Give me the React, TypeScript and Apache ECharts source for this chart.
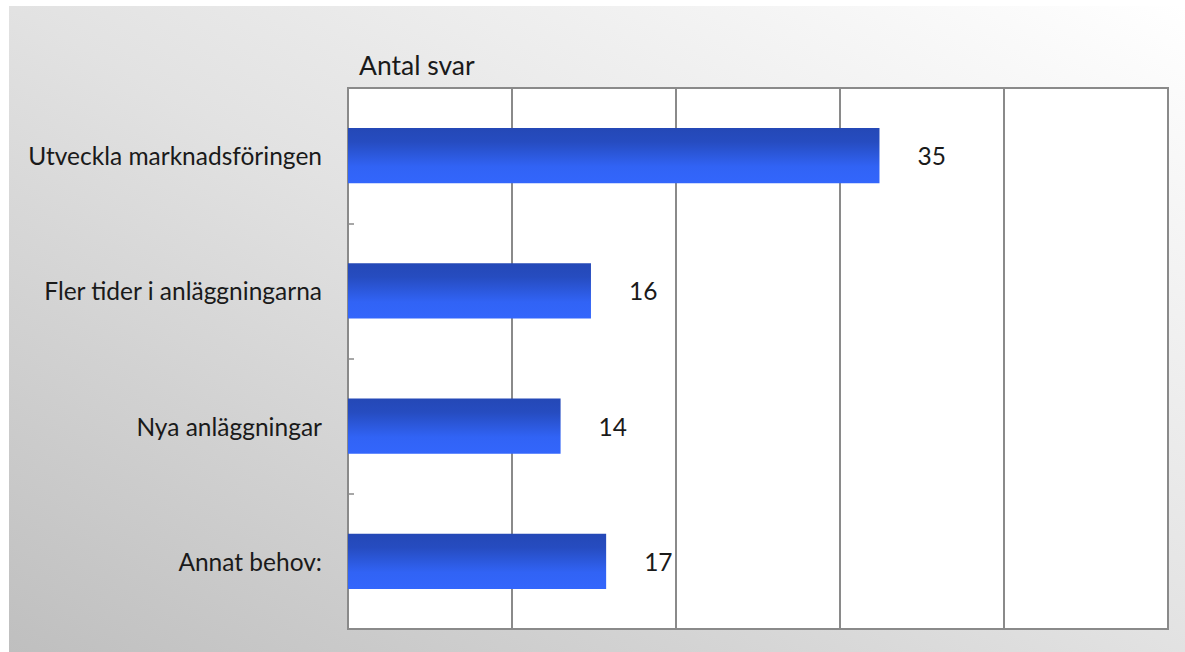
import React, { useEffect, useRef } from "react";
import * as echarts from "echarts";

const categories = [
  "Utveckla marknadsföringen",
  "Fler tider i anläggningarna",
  "Nya anläggningar",
  "Annat behov:",
];
const values = [35, 16, 14, 17];
const axisTitle = "Antal svar";
const axisMax = 54;
const axisInterval = 10.8;

export default function App() {
  const ref = useRef<HTMLDivElement>(null);
  useEffect(() => {
    if (!ref.current) return;
    const chart = echarts.init(ref.current, null, { renderer: "svg" });
    const font = "Lato, 'Open Sans', sans-serif";
    chart.setOption({
      animation: false,
      backgroundColor: "transparent",
      title: {
        text: axisTitle,
        left: 345,
        top: 40,
        textStyle: { fontFamily: font, fontSize: 26.5, fontWeight: "normal", color: "#1a1a1a" },
      },
      grid: {
        left: 339,
        right: 17,
        top: 82,
        bottom: 23,
        show: true,
        backgroundColor: "#ffffff",
        borderColor: "#8a8a8a",
        borderWidth: 2,
      },
      xAxis: {
        type: "value",
        min: 0,
        max: axisMax,
        interval: axisInterval,
        axisLabel: { show: false },
        axisLine: { show: false },
        axisTick: { show: false },
        splitLine: { show: true, lineStyle: { color: "#8a8a8a", width: 2 } },
      },
      yAxis: {
        type: "category",
        data: categories,
        inverse: true,
        axisLine: { show: true, lineStyle: { color: "#8a8a8a", width: 2 } },
        axisTick: { show: true, inside: true, length: 6, lineStyle: { color: "#8a8a8a", width: 1.5 } },
        axisLabel: { margin: 26, fontFamily: font, fontSize: 24.5, color: "#1a1a1a" },
      },
      series: [
        {
          type: "bar",
          data: values,
          barCategoryGap: "59%",
          itemStyle: {
            color: new echarts.graphic.LinearGradient(0, 0, 0, 1, [
              { offset: 0, color: "#2448b6" },
              { offset: 0.25, color: "#264cc0" },
              { offset: 0.7, color: "#3163f5" },
              { offset: 1, color: "#3366fc" },
            ]),
          },
          label: {
            show: true,
            position: "right",
            distance: 38,
            fontFamily: font,
            fontSize: 24.5,
            color: "#1a1a1a",
          },
        },
      ],
    });
    return () => chart.dispose();
  }, []);
  return (
    <div
      ref={ref}
      style={{
        position: "absolute",
        left: 9,
        top: 6,
        width: 1176,
        height: 646,
        background: "linear-gradient(to bottom left, #ffffff 0%, #e2e2e2 50%, #bfbfbf 100%)",
      }}
    />
  );
}
